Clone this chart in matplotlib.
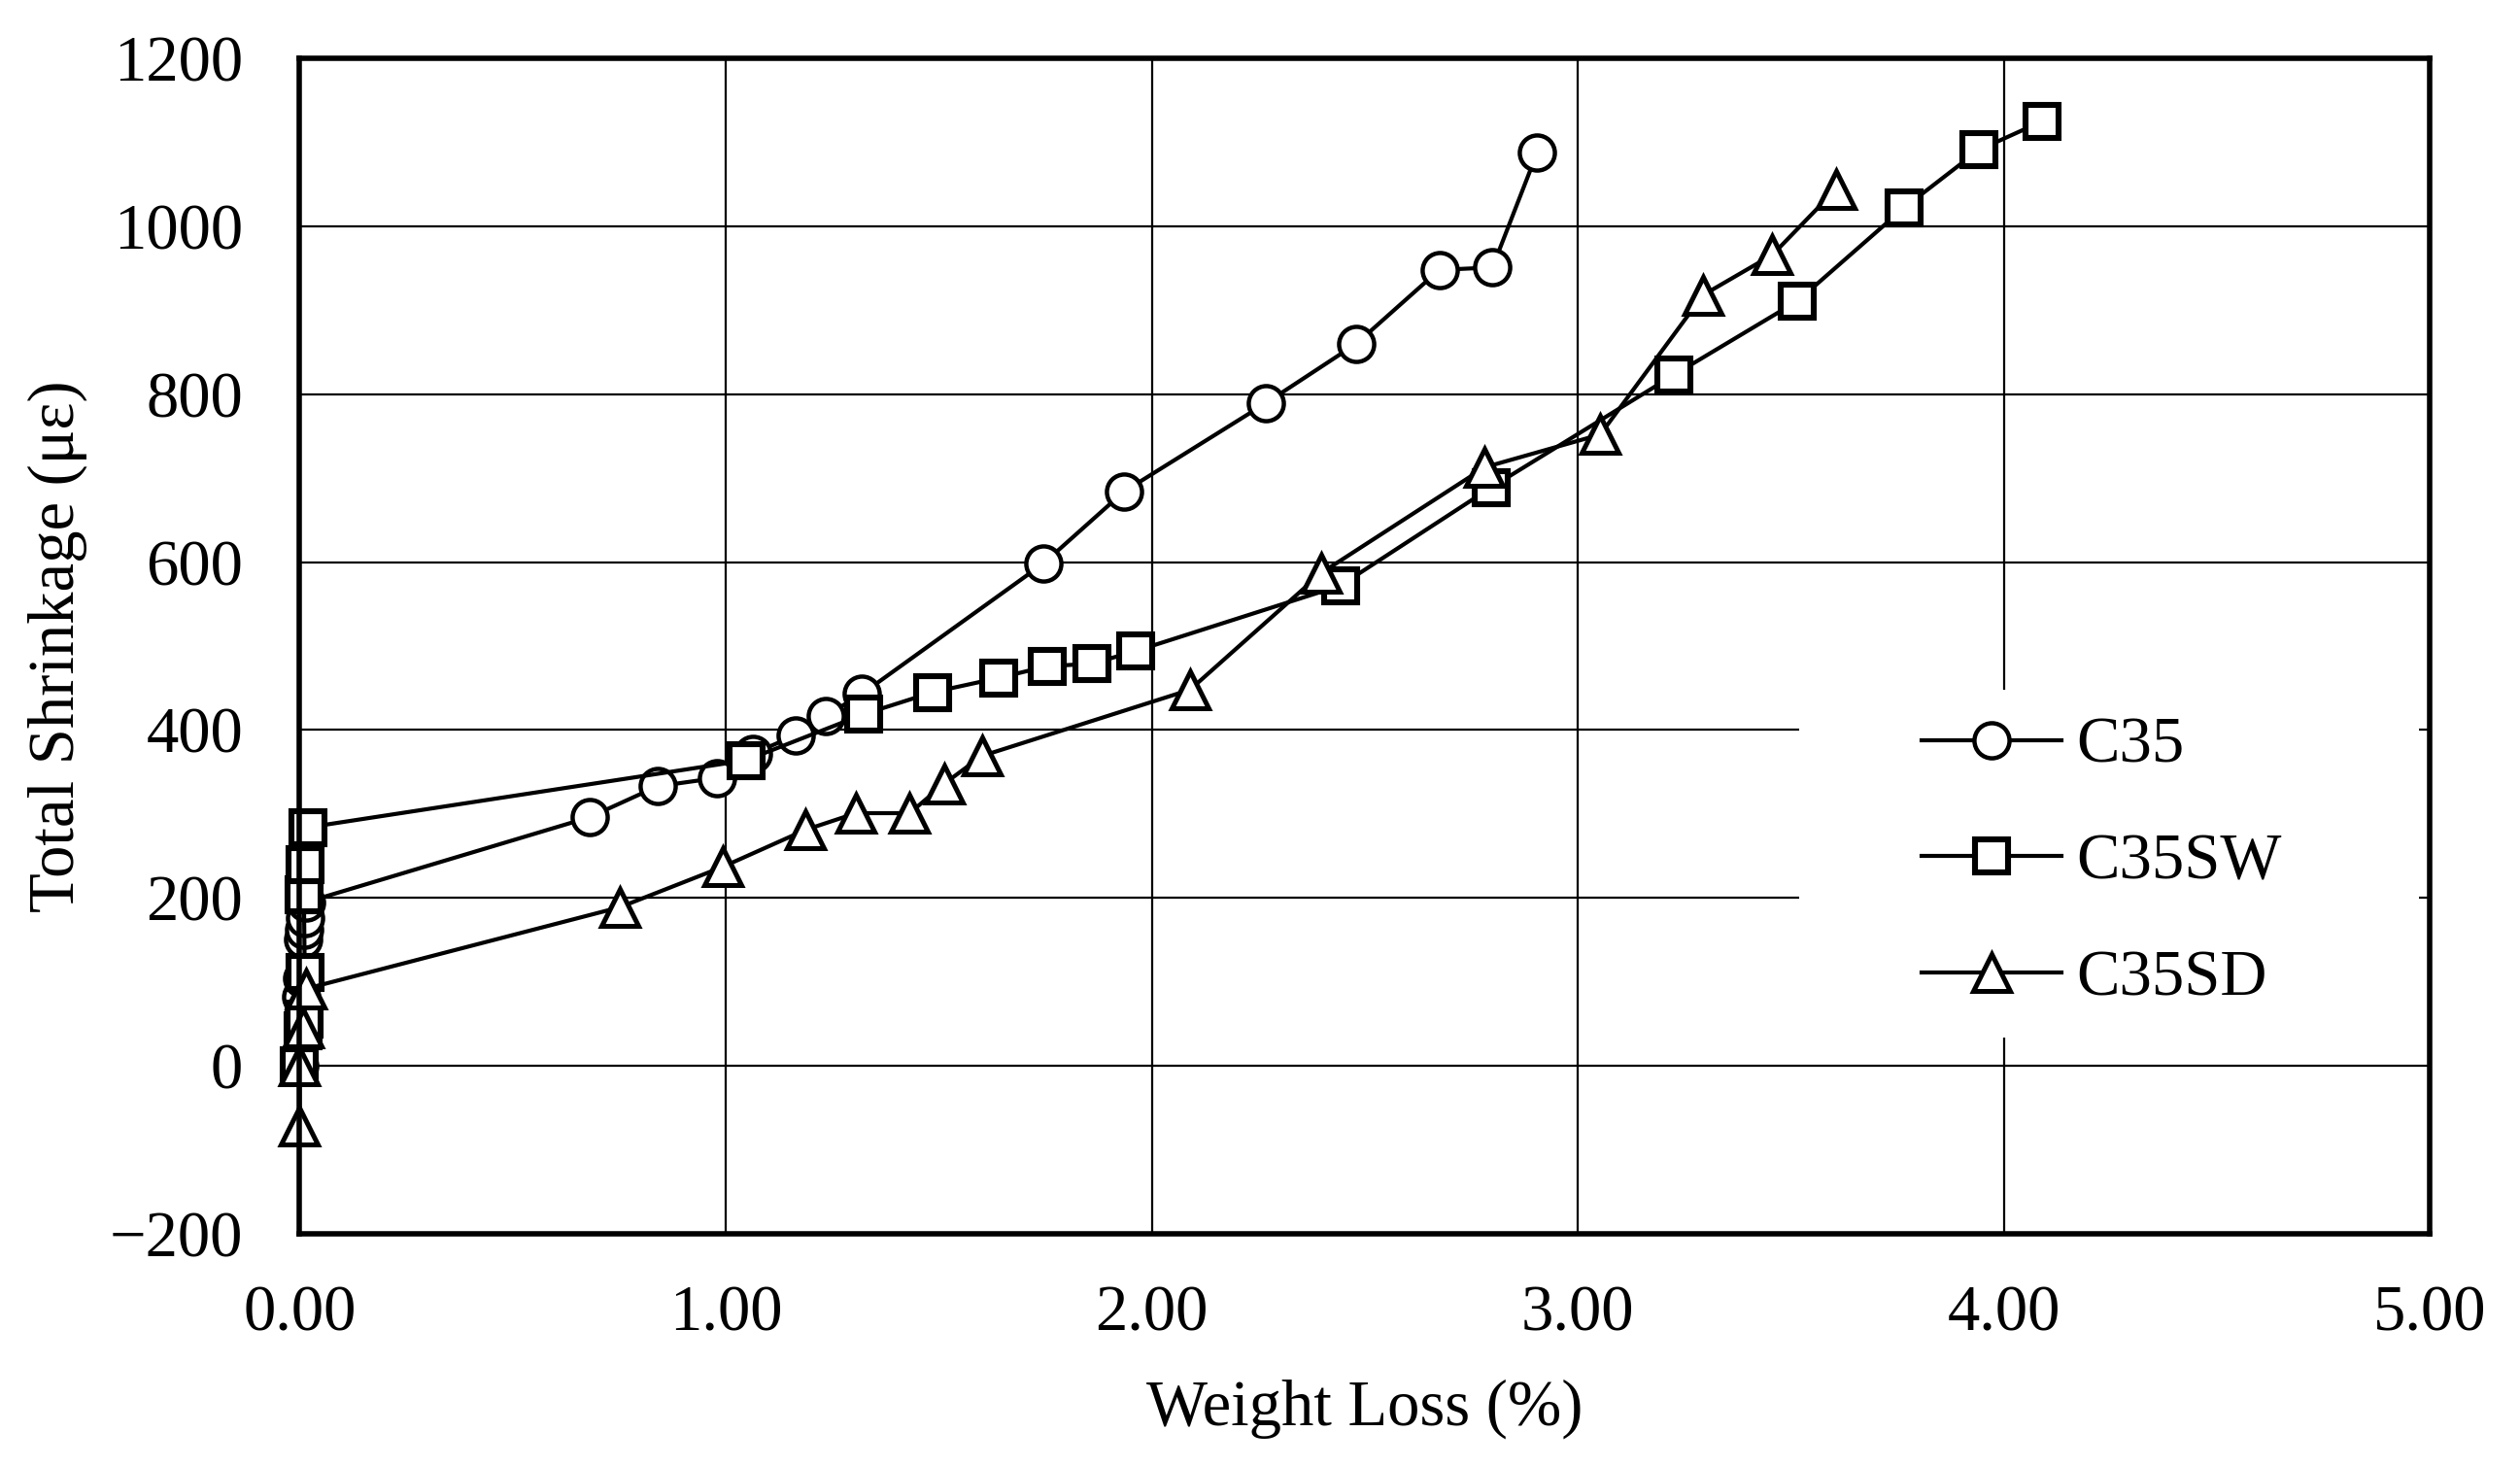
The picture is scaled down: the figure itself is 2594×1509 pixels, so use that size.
import matplotlib
matplotlib.use('Agg')
import matplotlib.pyplot as plt
from matplotlib.patches import Rectangle
from matplotlib.ticker import FormatStrFormatter, MultipleLocator

plt.rcParams['font.family'] = ['Liberation Serif', 'DejaVu Serif']
plt.rcParams['axes.unicode_minus'] = True

# 数据：失重率(%) 与 总收缩(με)
c35_x = [0.0, 0.004, 0.006, 0.008, 0.010, 0.012, 0.016, 0.68, 0.84, 0.98, 1.065, 1.165, 1.235,
         1.32, 1.745, 1.935, 2.267, 2.48, 2.675, 2.80, 2.905]
c35_y = [0, 82, 104, 150, 162, 176, 195, 296, 333, 343, 372, 394, 417,
         443, 598, 684, 789, 860, 948, 951, 1088]

sw_x = [0.0, 0.008, 0.010, 0.012, 0.010, 0.012, 0.019, 1.048, 1.325, 1.486, 1.640, 1.755,
        1.860, 1.962, 2.443, 2.797, 3.226, 3.516, 3.766, 3.942, 4.090]
sw_y = [0, 42, 56, 111, 204, 240, 284, 364, 419, 445, 462, 476,
        479, 494, 572, 689, 823, 911, 1022, 1091, 1125]

sd_x = [0.0, 0.0, 0.008, 0.016, 0.752, 0.993, 1.187, 1.306, 1.432, 1.513, 1.601,
        2.090, 2.398, 2.782, 3.053, 3.294, 3.457, 3.606]
sd_y = [-72, 0, 45, 92, 189, 237, 281, 301, 301, 336, 369,
        448, 587, 713, 752, 918, 966, 1044]

labels = ['C35', 'C35SW', 'C35SD']

fig = plt.figure(figsize=(12.97, 7.545), dpi=200)
ax = fig.add_axes([0.1189, 0.1584, 0.9642 - 0.1189, 0.9602 - 0.1584])

ax.plot(c35_x, c35_y, '-o', color='black', lw=1.5, ms=13, mew=1.6,
        mfc='white', mec='black', label=labels[0], clip_on=False, zorder=3)
ax.plot(sw_x, sw_y, '-s', color='black', lw=1.5, ms=12.5, mew=2.2,
        mfc='white', mec='black', label=labels[1], clip_on=False, zorder=3)
ax.plot(sd_x, sd_y, '-^', color='black', lw=1.5, ms=14, mew=1.8,
        mfc='white', mec='black', label=labels[2], clip_on=False, zorder=3)

ax.set_xlim(0, 5)
ax.set_ylim(-200, 1200)
ax.xaxis.set_major_locator(MultipleLocator(1))
ax.yaxis.set_major_locator(MultipleLocator(200))
ax.xaxis.set_major_formatter(FormatStrFormatter('%.2f'))

ax.set_axisbelow(True)
ax.grid(True, color='black', lw=0.8)
for s in ax.spines.values():
    s.set_linewidth(2.0)
    s.set_zorder(4)

ax.tick_params(axis='both', length=0, labelsize=24, colors='black')
ax.tick_params(axis='x', pad=19)
ax.tick_params(axis='y', pad=21)

ax.set_xlabel('Weight Loss (%)', fontsize=24, labelpad=13)
ax.set_ylabel('Total Shrinkage (με)', fontsize=24, labelpad=8)

# 图例底色（遮住网格线）
ax.add_patch(Rectangle((0.704, 0.167), 0.291, 0.296, transform=ax.transAxes,
                       facecolor='white', edgecolor='none', zorder=1))

leg = ax.legend(loc='upper left', bbox_to_anchor=(0.7615, 0.4397), frameon=False,
                fontsize=24, handlelength=2.16, handletextpad=0.22,
                labelspacing=0.88, borderpad=0, borderaxespad=0, numpoints=1)
leg.set_zorder(5)

fig.savefig('out.png', dpi=200)
